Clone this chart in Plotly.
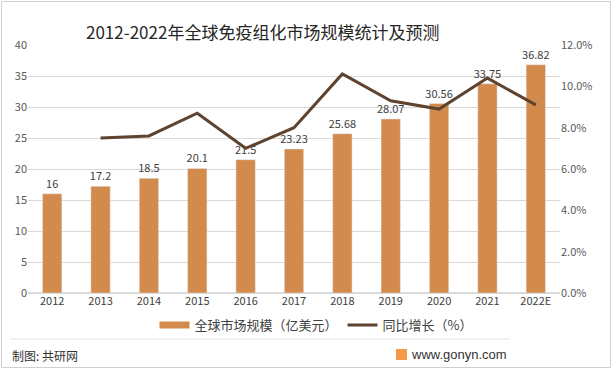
import plotly.graph_objects as go

years = ["2012", "2013", "2014", "2015", "2016", "2017", "2018", "2019", "2020", "2021", "2022E"]
market_size = [16, 17.2, 18.5, 20.1, 21.5, 23.23, 25.68, 28.07, 30.56, 33.75, 36.82]
growth_years = ["2013", "2014", "2015", "2016", "2017", "2018", "2019", "2020", "2021", "2022E"]
growth_rate = [7.5, 7.6, 8.7, 7.0, 8.0, 10.6, 9.3, 8.9, 10.4, 9.1]

W, H = 612, 369
L, R, T, B = 28, 52, 45, 76
pw, ph = W - L - R, H - T - B

def px(x):
    return (x - L) / pw

def py(y):
    return (H - B - y) / ph

font = "Noto Sans CJK SC, Noto Sans, sans-serif"
bar_color = "#D38A4D"

fig = go.Figure()
fig.add_trace(go.Bar(
    x=years, y=market_size, name="全球市场规模（亿美元）",
    marker=dict(color=bar_color),
    text=[f"{v:g}" for v in market_size], textposition="outside",
    textfont=dict(size=11, color="#404040"), cliponaxis=False,
    constraintext="none", showlegend=False,
    yaxis="y",
))
# legend entry for bars (wide swatch)
fig.add_trace(go.Scatter(
    x=[None], y=[None], name="全球市场规模（亿美元）", mode="lines",
    line=dict(color=bar_color, width=7), yaxis="y",
))
fig.add_trace(go.Scatter(
    x=growth_years, y=growth_rate, name="同比增长（%）",
    mode="lines", line=dict(color="#5E4330", width=3),
    yaxis="y2",
))

fig.update_layout(
    width=W, height=H,
    margin=dict(l=L, r=R, t=T, b=B),
    paper_bgcolor="white", plot_bgcolor="white",
    font=dict(family=font, size=11, color="#595959"),
    bargap=0.6,
    showlegend=True,
    legend=dict(orientation="h", x=px(316), xanchor="center", y=py(325), yanchor="middle",
                font=dict(size=13, color="#404040"), itemwidth=30, tracegroupgap=0,
                bgcolor="rgba(0,0,0,0)"),
    xaxis=dict(type="category", showgrid=False, showline=False, ticks="",
               tickfont=dict(size=11, color="#404040")),
    yaxis=dict(range=[0, 40], dtick=5, showgrid=True, gridcolor="#D9D9D9", gridwidth=1,
               zeroline=True, zerolinecolor="#D9D9D9", showline=False, ticks="",
               tickfont=dict(size=11, color="#595959")),
    yaxis2=dict(range=[0, 12], dtick=2, overlaying="y", side="right", showgrid=False,
                zeroline=False, showline=False, ticksuffix="%", tickformat=".1f", ticks="",
                tickfont=dict(size=11, color="#595959")),
)

fig.add_annotation(text="2012-2022年全球免疫组化市场规模统计及预测", xref="paper", yref="paper",
                   x=px(262), y=py(32), xanchor="center", yanchor="middle", showarrow=False,
                   font=dict(size=17, color="#262626", family=font))
fig.add_annotation(text="制图: 共研网", xref="paper", yref="paper",
                   x=px(10), y=py(355), xanchor="left", yanchor="middle", showarrow=False,
                   font=dict(size=12, color="#333333", family=font))
fig.add_annotation(text="www.gonyn.com", xref="paper", yref="paper",
                   x=px(509), y=py(354), xanchor="right", yanchor="middle", showarrow=False,
                   font=dict(size=13, color="#333333", family="Liberation Sans, Arial, sans-serif"))
# logo square
fig.add_shape(type="rect", xref="paper", yref="paper", x0=px(396), x1=px(407), y0=py(360), y1=py(349),
              fillcolor="#F39A4A", line=dict(width=0))
# separator line
fig.add_shape(type="line", xref="paper", yref="paper", x0=px(10), x1=px(510), y0=py(339), y1=py(339),
              line=dict(color="#E3E3E3", width=1))
# outer border
fig.add_shape(type="rect", xref="paper", yref="paper", x0=px(1.5), x1=px(W - 1.5), y0=py(H - 1.5), y1=py(1.5),
              line=dict(color="#D0D0D0", width=1), fillcolor="rgba(0,0,0,0)")

fig.write_html("out.html", config={"displayModeBar": False},
               post_script="document.body.style.margin='0';document.body.style.overflow='hidden';")
